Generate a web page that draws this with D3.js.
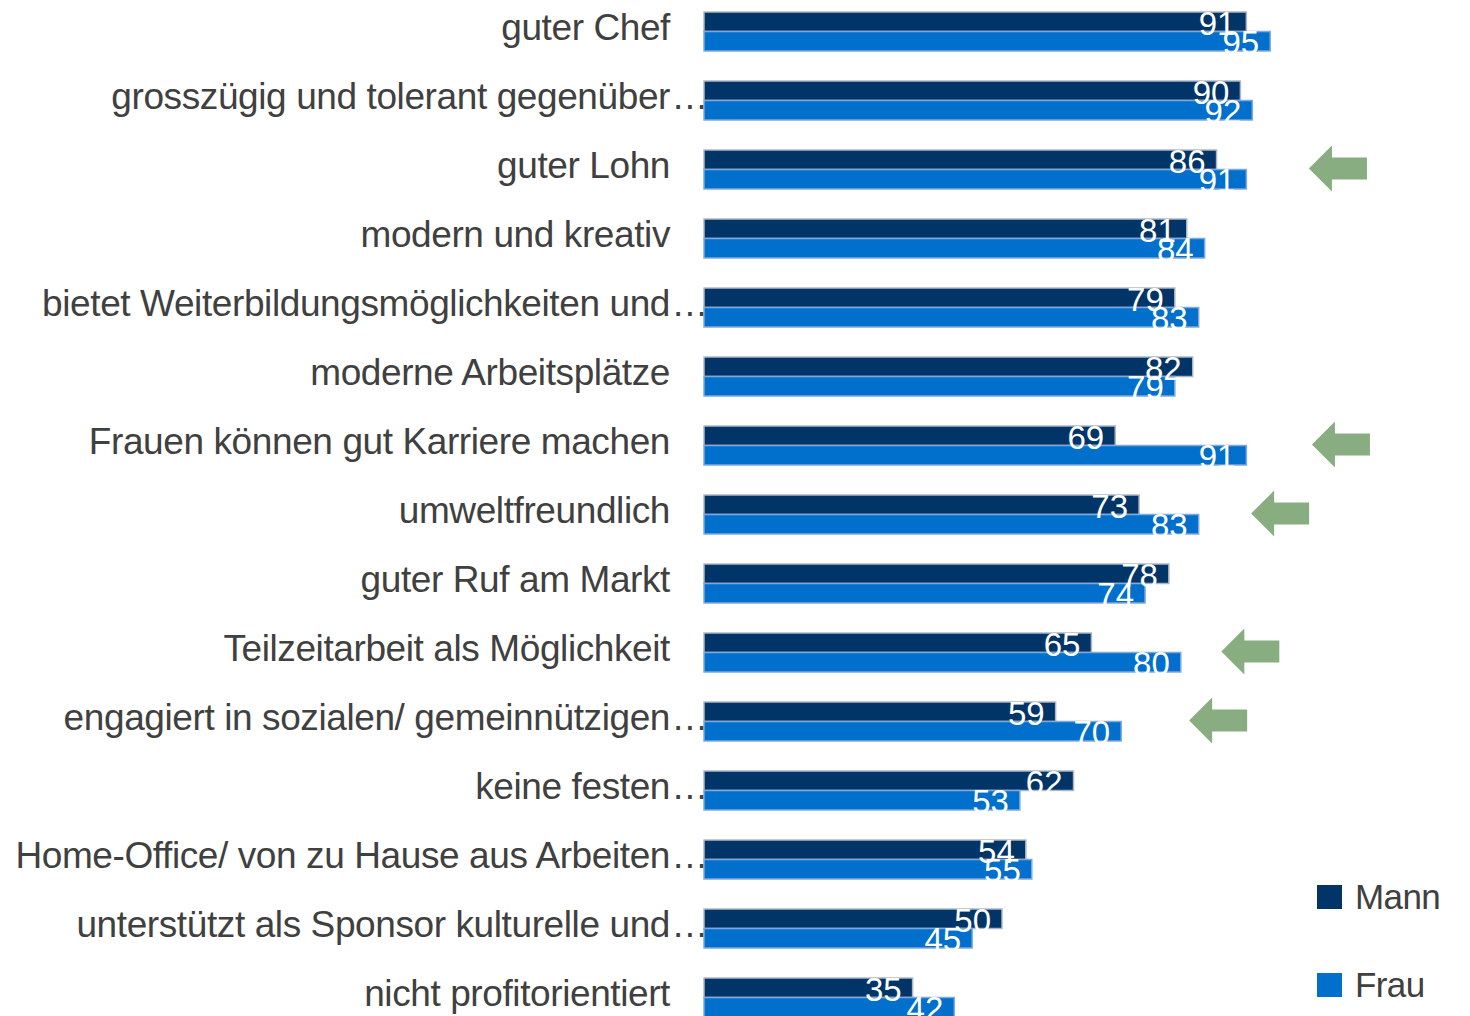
<!DOCTYPE html>
<html>
<head>
<meta charset="utf-8">
<script src="https://cdn.jsdelivr.net/npm/d3@7"></script>
<style>
  body { margin: 0; background: #fff; }
  svg { display: block; }
</style>
</head>
<body>
<div id="chart"></div>
<script>
// Categories (top to bottom) and values
const categories = [
  "guter Chef",
  "grosszügig und tolerant gegenüber...",
  "guter Lohn",
  "modern und kreativ",
  "bietet Weiterbildungsmöglichkeiten und...",
  "moderne Arbeitsplätze",
  "Frauen können gut Karriere machen",
  "umweltfreundlich",
  "guter Ruf am Markt",
  "Teilzeitarbeit als Möglichkeit",
  "engagiert in sozialen/ gemeinnützigen...",
  "keine festen...",
  "Home-Office/ von zu Hause aus Arbeiten...",
  "unterstützt als Sponsor kulturelle und...",
  "nicht profitorientiert"
];
const mann = [91, 90, 86, 81, 79, 82, 69, 73, 78, 65, 59, 62, 54, 50, 35];
const frau = [95, 92, 91, 84, 83, 79, 91, 83, 74, 80, 70, 53, 55, 45, 42];
const seriesNames = ["Mann", "Frau"];
const seriesColors = ["#013567", "#0070cc"];
const seriesStroke = ["#aeb6c6", "#80a8de"];

// Green arrows pointing at selected categories (tip position in value units)
const arrowCats = ["guter Lohn", "Frauen können gut Karriere machen", "umweltfreundlich",
  "Teilzeitarbeit als Möglichkeit", "engagiert in sozialen/ gemeinnützigen..."];
const arrowTips = [101.5, 102, 91.8, 86.8, 81.4];

const W = 1470, H = 1016;

const svg = d3.select('#chart')
  .append('svg')
  .attr('width', W)
  .attr('height', H);

// Scales
const x = d3.scaleLinear()
  .domain([0, 100])
  .range([704, 1300]);

const step = 69, gap = 30;
const y = d3.scaleBand()
  .domain(categories)
  .range([12 - gap / 2, 12 - gap / 2 + step * categories.length])
  .paddingInner(gap / step)
  .paddingOuter(gap / 2 / step);

const sub = d3.scaleBand()
  .domain(seriesNames)
  .range([0, y.bandwidth()]);

// Category labels (ellipsis drawn after the right-aligned text)
const labels = svg.append('g')
  .selectAll('g')
  .data(categories)
  .join('g')
  .attr('transform', d => `translate(0,${y(d) + 28})`)
  .attr('font-family', 'Liberation Sans, Arial, sans-serif')
  .attr('font-size', 37)
  .attr('fill', '#404040');

labels.append('text')
  .attr('x', 670)
  .attr('text-anchor', 'end')
  .attr('letter-spacing', -0.4)
  .text(d => d.replace(/\.\.\.$/, ''));

labels.filter(d => d.endsWith('...'))
  .append('text')
  .attr('x', 673)
  .attr('letter-spacing', 1.5)
  .text('...');

// Bars
const rows = categories.map((c, i) => ({ cat: c, values: [mann[i], frau[i]] }));

const rowG = svg.append('g')
  .selectAll('g')
  .data(rows)
  .join('g')
  .attr('transform', d => `translate(0,${y(d.cat)})`);

rowG.selectAll('rect')
  .data(d => d.values.map((v, k) => ({ v, k })))
  .join('rect')
  .attr('x', x(0))
  .attr('y', d => sub(seriesNames[d.k]))
  .attr('width', d => x(d.v) - x(0))
  .attr('height', sub.bandwidth())
  .attr('fill', d => seriesColors[d.k])
  .attr('stroke', d => seriesStroke[d.k])
  .attr('stroke-width', 1.5);

// Value labels
rowG.selectAll('text')
  .data(d => d.values.map((v, k) => ({ v, k })))
  .join('text')
  .attr('x', d => x(d.v) - 11)
  .attr('y', d => sub(seriesNames[d.k]) + sub.bandwidth() + 3)
  .attr('text-anchor', 'end')
  .attr('font-family', 'Liberation Sans Narrow, Arial Narrow, sans-serif')
  .attr('font-size', 33)
  .attr('fill', '#fff')
  .text(d => d.v);

// Arrows
const arrow = (tip, cy) => {
  const pts = [
    [tip, cy], [tip + 23, cy - 23], [tip + 23, cy - 11],
    [tip + 58, cy - 11], [tip + 58, cy + 11], [tip + 23, cy + 11], [tip + 23, cy + 23]
  ];
  return 'M' + pts.map(p => p.join(',')).join('L') + 'Z';
};

svg.append('g')
  .selectAll('path')
  .data(arrowCats.map((c, i) => ({ cat: c, tip: arrowTips[i] })))
  .join('path')
  .attr('d', d => arrow(x(d.tip), y(d.cat) + y.bandwidth() / 2 - 1))
  .attr('fill', '#88ad80');

// Legend
const legend = svg.append('g')
  .selectAll('g')
  .data(seriesNames)
  .join('g')
  .attr('transform', (d, i) => `translate(1317,${885 + i * 88})`);

legend.append('rect')
  .attr('width', 25)
  .attr('height', 24)
  .attr('fill', (d, i) => seriesColors[i]);

legend.append('text')
  .attr('x', 38)
  .attr('y', 24)
  .attr('font-family', 'Liberation Sans, Arial, sans-serif')
  .attr('font-size', 35)
  .attr('letter-spacing', -0.6)
  .attr('fill', '#404040')
  .text(d => d);
</script>
</body>
</html>
